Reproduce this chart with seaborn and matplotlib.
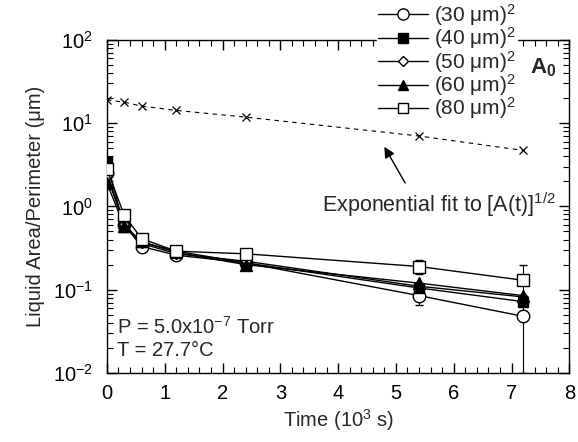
import matplotlib
matplotlib.use("Agg")
import matplotlib.pyplot as plt
import seaborn as sns
import numpy as np
import pandas as pd
from matplotlib.ticker import MultipleLocator, LogLocator, NullFormatter

sns.set_style("ticks")
plt.rcParams['font.family'] = ['Liberation Sans', 'DejaVu Sans']
plt.rcParams['mathtext.fontset'] = 'custom'
plt.rcParams['mathtext.rm'] = 'Liberation Sans'
plt.rcParams['mathtext.it'] = 'Liberation Sans:italic'
plt.rcParams['mathtext.bf'] = 'Liberation Sans:bold'

time = [0.0, 0.3, 0.6, 1.2, 2.4, 5.4, 7.2]
labels = ["(30 μm)$^2$", "(40 μm)$^2$", "(50 μm)$^2$", "(60 μm)$^2$", "(80 μm)$^2$"]
v30 = [2.5, 0.60, 0.33, 0.26, 0.21, 0.085, 0.048]
v40 = [3.4, 0.56, 0.37, 0.29, 0.21, 0.105, 0.072]
v50 = [2.3, 0.62, 0.36, 0.27, 0.22, 0.11, 0.082]
v60 = [1.9, 0.58, 0.38, 0.28, 0.20, 0.12, 0.085]
v80 = [2.8, 0.78, 0.41, 0.29, 0.27, 0.19, 0.13]
err_lo30 = [0.3, 0.03, 0.02, 0.02, 0.02, 0.02, 0.038]
err_hi30 = [0.3, 0.03, 0.02, 0.02, 0.02, 0.02, 0.025]
err_lo80 = [0.3, 0.05, 0.03, 0.02, 0.03, 0.035, 0.06]
err_hi80 = [0.3, 0.05, 0.03, 0.02, 0.03, 0.04, 0.07]
fit_time = [0.0, 0.3, 0.6, 1.2, 2.4, 5.4, 7.2]
fit_vals = [19.0, 17.8, 16.0, 14.2, 11.8, 7.0, 4.7]

series = [v30, v40, v50, v60, v80]
markers = ['o', 's', 'D', '^', 's']
mfc = ['white', 'black', 'white', 'black', 'white']
msz = [9, 7.5, 5.5, 8, 8]

fig = plt.figure(figsize=(5.78, 4.42), dpi=100)
ax = fig.add_axes([0.185, 0.156, 0.800, 0.754])

rows = []
for lab, vals in zip(labels, series):
    for t, v in zip(time, vals):
        rows.append({"time": t, "value": v, "size": lab})
df = pd.DataFrame(rows)

handles = []
for i, lab in enumerate(labels):
    sub = df[df["size"] == lab]
    sns.lineplot(data=sub, x="time", y="value", ax=ax, color="black", lw=1.0,
                 marker=markers[i], markersize=msz[i], markerfacecolor=mfc[i],
                 markeredgecolor="black", markeredgewidth=1.0, zorder=3 + i)
    h, = ax.plot([], [], color="black", lw=1.0, marker=markers[i], markersize=msz[i] * 0.9,
                 markerfacecolor=mfc[i], markeredgecolor="black")
    handles.append(h)

ax.errorbar(time, v30, yerr=[err_lo30, err_hi30], fmt='none', ecolor='black',
            elinewidth=0.8, capsize=3, zorder=2)
ax.errorbar(time, v80, yerr=[err_lo80, err_hi80], fmt='none', ecolor='black',
            elinewidth=0.8, capsize=3, zorder=2)

sns.lineplot(x=fit_time, y=fit_vals, ax=ax, color="black", lw=0.8,
             linestyle=(0, (4, 4)), marker='x', markersize=6,
             markeredgecolor='black', markeredgewidth=0.9)

ax.set_yscale("log")
ax.set_xlim(0, 8)
ax.set_ylim(1e-2, 1e2)
ax.xaxis.set_major_locator(MultipleLocator(1))
ax.xaxis.set_minor_locator(MultipleLocator(0.2))
ax.yaxis.set_major_locator(LogLocator(base=10, numticks=10))
ax.yaxis.set_minor_locator(LogLocator(base=10, subs=np.arange(2, 10), numticks=20))
ax.yaxis.set_minor_formatter(NullFormatter())
ax.tick_params(which='both', direction='in', top=True, right=True, labelsize=14.5, colors='black')
ax.tick_params(which='major', length=7, width=1)
ax.tick_params(which='minor', length=4, width=0.8)
ax.tick_params(axis='y', which='major', pad=10)
ax.tick_params(axis='x', which='major', pad=8)
for s in ax.spines.values():
    s.set_linewidth(1.0)
    s.set_color('black')

ax.set_xlabel("Time (10$^3$ s)", fontsize=14.5, labelpad=3)
ax.set_ylabel("Liquid Area/Perimeter (μm)", fontsize=14.5, labelpad=6)

leg = fig.legend(handles, labels, loc='upper left', bbox_to_anchor=(0.652, 0.998),
                 frameon=True, fontsize=15, handlelength=2.4, handletextpad=0.3,
                 labelspacing=-0.12, borderpad=0.05, borderaxespad=0)
leg.get_frame().set_facecolor('white')
leg.get_frame().set_edgecolor('white')
leg.get_frame().set_alpha(1)
leg.get_frame().set_boxstyle('square', pad=0)
leg.set_zorder(10)

fig.text(0.917, 0.846, "A$_\\mathbf{0}$", fontsize=16, fontweight='bold', ha='left', va='center')

ax.annotate("", xy=(4.8, 5.2), xytext=(5.16, 1.91),
            arrowprops=dict(arrowstyle='-|>', color='black', lw=1.0, mutation_scale=16,
                            shrinkA=0, shrinkB=0))
ax.text(3.72, 1.04, "Exponential fit to [A(t)]$^{1/2}$", fontsize=15.5, ha='left', va='center')

ax.text(0.17, 0.0357, "P = 5.0x10$^{-7}$ Torr", fontsize=14.5, ha='left', va='center')
ax.text(0.17, 0.0189, "T = 27.7°C", fontsize=14.5, ha='left', va='center')

fig.savefig("out.png", dpi=100)
